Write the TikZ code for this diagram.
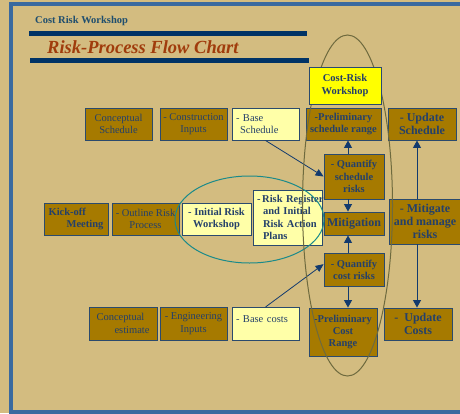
\documentclass[tikz,border=0pt]{standalone}
\usepackage{fontspec}
\setmainfont{Liberation Serif}
\usetikzlibrary{arrows.meta}

\definecolor{slidebg}{HTML}{D3BC80}
\definecolor{frameblue}{HTML}{3A6A9F}
\definecolor{barnavy}{HTML}{003366}
\definecolor{headteal}{HTML}{1F4E6E}
\definecolor{titlered}{HTML}{A03C0C}
\definecolor{boxbrown}{HTML}{A67A00}
\definecolor{paleyel}{HTML}{FFFFA8}
\definecolor{brightyel}{HTML}{FFFF00}
\definecolor{boxline}{HTML}{2A4A6E}
\definecolor{boxtext}{HTML}{24406A}
\definecolor{arrowcol}{HTML}{123A6E}
\definecolor{ringolive}{HTML}{6E6A3E}
\definecolor{ringteal}{HTML}{1A8A8A}

\begin{document}
\begin{tikzpicture}[x=1pt,y=-1pt,
  boxbase/.style={draw=boxline, line width=0.9pt, inner sep=1pt, align=center,
    text=boxtext, font=\fontsize{10.5}{12.5}\selectfont},
  dkbox/.style={boxbase, fill=boxbrown},
  ltbox/.style={boxbase, fill=paleyel},
  ylbox/.style={boxbase, fill=brightyel},
  leftset/.style={inner xsep=4pt, text width=#1, align=left},
  bf/.style={font=\fontsize{10.5}{12.3}\selectfont\bfseries},
  bfl/.style={font=\fontsize{12}{12.7}\selectfont\bfseries},
  sz/.style 2 args={minimum width=#1, minimum height=#2},
  arr/.style={draw=arrowcol, line width=1pt, -{Triangle[width=8pt,length=7.5pt]}},
  thinarr/.style={draw=arrowcol, line width=0.8pt, -{Triangle[width=7pt,length=8pt]}},
  ring/.style={line width=1pt}
]
\useasboundingbox (0,0) rectangle (460,413);
\clip (0,0) rectangle (460,413);

% slide background and frame
\fill[slidebg] (0,0) rectangle (460,413);
\draw[frameblue, line width=4pt] (11,4) rectangle (490,411.5);

% heading
\node[anchor=base west, inner sep=0pt, text=headteal,
  font=\fontsize{10.5}{12}\selectfont\bfseries] (hdr) at (35,23) {Cost Risk Workshop};
\fill[barnavy] (29,31) rectangle (307,36);
\fill[barnavy] (30,58) rectangle (309,63);
\node[anchor=base west, inner sep=0pt, text=titlered,
  font=\fontsize{18.5}{20}\selectfont\bfseries\itshape] (ttl) at (47,53.5) {Risk-Process Flow Chart};

% schedule row
\node[dkbox, sz={67pt}{32pt}] (cs) at (118.5,124) {Conceptual\\Schedule};
\node[dkbox, sz={67pt}{32pt}] (ci) at (193.5,124) {- Construction\\Inputs};
\node[ltbox, sz={67pt}{32pt}, leftset=59pt] (bs) at (265.5,124) {- Base\\\hspace*{4pt}Schedule};
\node[dkbox, bf, sz={75pt}{32pt}] (psr) at (343.5,124) {-Preliminary\\schedule range};
\node[dkbox, bfl, sz={68pt}{32pt}] (us) at (422,124) {- Update\\Schedule};

% risk row
\node[dkbox, bf, sz={64pt}{32pt}, align=left] (ko) at (76,219) {Kick-off\\\hspace*{18pt}Meeting};
\node[dkbox, sz={67pt}{32pt}] (orp) at (145.5,219) {- Outline Risk\\Process};
\node[ltbox, bf, sz={69pt}{32pt}] (irw) at (216.5,219) {- Initial Risk\\Workshop};
\node[ltbox, bf, minimum height=55pt, leftset=61pt] (rr) at (287.5,217.5)
  {\mbox{-\,Risk Register}\\\mbox{\hspace*{6pt}and Initial}\\\mbox{\hspace*{6pt}Risk Action}\\\mbox{\hspace*{6pt}Plans}};
\node[dkbox, bf, sz={60pt}{45pt}] (qsr) at (354,176.5) {- Quantify\\schedule\\risks};
\node[dkbox, bfl, sz={60pt}{23pt}] (mit) at (354,223.5) {Mitigation};
\node[dkbox, bf, sz={60pt}{33pt}] (qcr) at (354,269.5) {- Quantify\\cost risks};
\node[dkbox, bfl, sz={72pt}{45pt}] (mm) at (425,221.5) {- Mitigate\\and manage\\risks};

% cost row
\node[dkbox, sz={68pt}{33pt}, align=left] (ce) at (123,323.5) {Conceptual\\\hspace*{18pt}estimate};
\node[dkbox, sz={67pt}{33pt}] (ei) at (193.5,323.5) {- Engineering\\Inputs};
\node[ltbox, sz={67pt}{33pt}, leftset=59pt, anchor=north, text depth=10pt] (bc) at (265.5,307) {- Base costs};
\node[dkbox, bf, sz={68pt}{48pt}] (pcr) at (343,332) {-Preliminary\\Cost\\Range};
\node[dkbox, bfl, sz={68pt}{32pt}] (uc) at (418,324) {-\ \ Update\\Costs};

% connectors
\coordinate (colA) at (348,0);
\coordinate (colB) at (417,0);
\draw[arr] (qsr.north -| colA) -- (psr.south -| colA);
\draw[arr] (qsr.south -| colA) -- (mit.north -| colA);
\draw[arr] (qcr.north -| colA) -- (mit.south -| colA);
\draw[arr] (qcr.south -| colA) -- (pcr.north -| colA);
\draw[arr] (mm.north -| colB) -- (us.south -| colB);
\draw[arr] (mm.south -| colB) -- (uc.north -| colB);
\draw[thinarr] (bs.south) -- (qsr.west);
\draw[thinarr] (bc.north) -- (qcr.170);

% grouping rings
\draw[ring, ringteal] (249.5,219.5) ellipse [x radius=74.5pt, y radius=43.5pt];
\draw[ring, ringolive] (347.5,205.5) ellipse [x radius=45pt, y radius=170.5pt];

% workshop box sits over the ring
\node[ylbox, bf, sz={72pt}{37pt}] (crw) at (345,85.5) {Cost-Risk\\Workshop};
\end{tikzpicture}
\end{document}
